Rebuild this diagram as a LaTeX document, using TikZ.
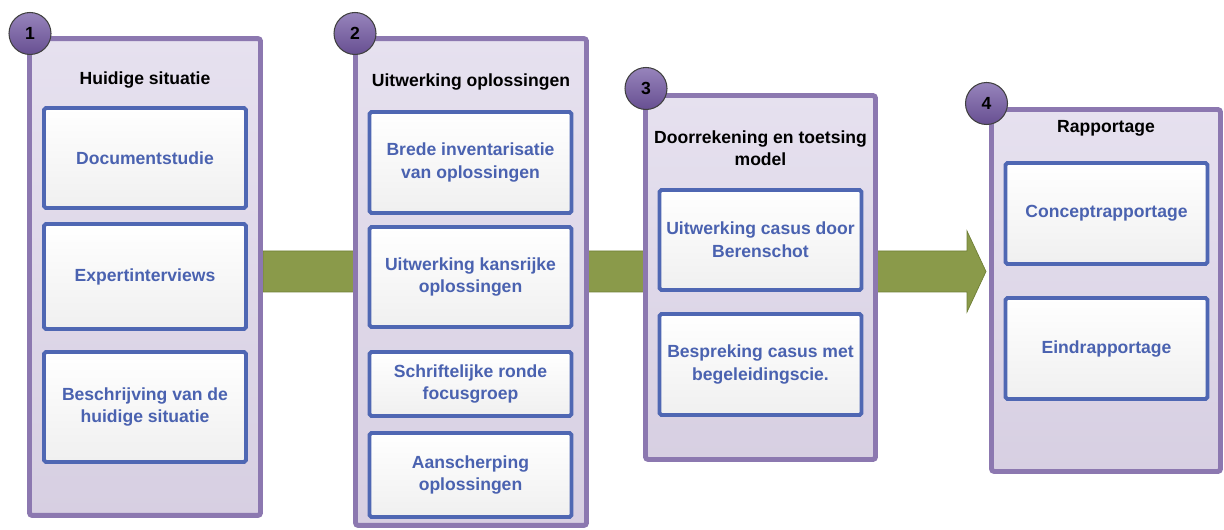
\documentclass[tikz,border=0pt]{standalone}
\usepackage{fontspec}
\setmainfont{Liberation Sans}
\usepackage{tikz}
\usetikzlibrary{positioning}
\usepackage{xcolor}

\definecolor{phaseline}{HTML}{8C78B0}
\definecolor{phasetop}{HTML}{E6E1EF}
\definecolor{phasebot}{HTML}{D7CFE2}
\definecolor{taskline}{HTML}{4F67B3}
\definecolor{tasktext}{HTML}{4A62B0}
\definecolor{flowfill}{HTML}{8A9A4A}
\definecolor{flowline}{HTML}{6F7F36}
\definecolor{numtop}{HTML}{9784BC}
\definecolor{numbot}{HTML}{674F91}

\begin{document}
\begin{tikzpicture}[x=0.02cm,y=-0.02cm,
      phase/.style={draw=phaseline,line width=2.8pt,rounded corners=1.5pt,
                    top color=phasetop,bottom color=phasebot,minimum width=4.62cm},
      task/.style={draw=taskline,line width=2.2pt,rounded corners=1pt,
                   top color=white,bottom color=black!6,minimum width=4.04cm,
                   align=center,text=tasktext,font=\fontsize{10}{13}\selectfont\bfseries},
      head/.style={align=center,font=\fontsize{10}{12.5}\selectfont\bfseries},
      num/.style={circle,draw=black!75,line width=0.6pt,minimum size=0.84cm,inner sep=0pt,
                  top color=numtop,bottom color=numbot,
                  font=\fontsize{10}{12}\selectfont\bfseries},
      flow/.style={fill=flowfill,draw=flowline,line width=0.4pt}]
    \useasboundingbox (0,0) rectangle (1224,530);

    % green arrow behind the phases
    \coordinate (tail) at (263,271.5);
    \coordinate (tip) at (986,271.5);
    \draw[flow] (tail) ++(0,-20.5) -- (967,251) -- (967,231) -- (tip)
      -- (967,312) -- (967,292) -- (263,292) -- cycle;

    % phase 1
    \node[phase,minimum height=9.54cm] (p1) at (145,277) {};
    \node[num] (n1) at (30,33.5) {1};
    \node[head] (h1) at (145,80) {Huidige situatie};
    \node[task,minimum height=2cm] (docs) at (145,158) {Documentstudie};
    \node[task,minimum height=2.1cm] (expert) at (145,276.5) {Expertinterviews};
    \node[task,minimum height=2.2cm] (descr) at (145,407) {Beschrijving van de\\huidige situatie};

    % phase 2
    \node[phase,minimum height=9.74cm] (p2) at (471,282) {};
    \node[num] (n2) at (355,33.5) {2};
    \node[head] (h2) at (471,82) {Uitwerking oplossingen};
    \node[task,minimum height=2.02cm] (inv) at (470.5,162.5) {Brede inventarisatie\\van oplossingen};
    \node[task,minimum height=2cm] (kans) at (470.5,277) {Uitwerking kansrijke\\oplossingen};
    \node[task,minimum height=1.28cm] (focus) at (470.5,384) {Schriftelijke ronde\\focusgroep};
    \node[task,minimum height=1.68cm] (scherp) at (470.5,475) {Aanscherping\\oplossingen};

    % phase 3
    \node[phase,minimum width=4.6cm,minimum height=7.28cm] (p3) at (760.5,277.5) {};
    \node[num] (n3) at (646,88.5) {3};
    \node[head] (h3) at (760.5,148) {Doorrekening en toetsing\\model};
    \node[task,minimum height=2cm] (casus) at (760.5,240) {Uitwerking casus door\\Berenschot};
    \node[task,minimum height=2.02cm] (bespr) at (760.5,364.5) {Bespreking casus met\\begeleidingscie.};

    % phase 4
    \node[phase,minimum width=4.58cm,minimum height=7.24cm] (p4) at (1106,290.5) {};
    \node[num] (n4) at (986.5,103.5) {4};
    \node[head] (h4) at (1106,128) {Rapportage};
    \node[task,minimum height=2.02cm] (concept) at (1106.5,213.5) {Conceptrapportage};
    \node[task,minimum height=2.02cm] (eind) at (1106.5,348.5) {Eindrapportage};
  \end{tikzpicture}
\end{document}
